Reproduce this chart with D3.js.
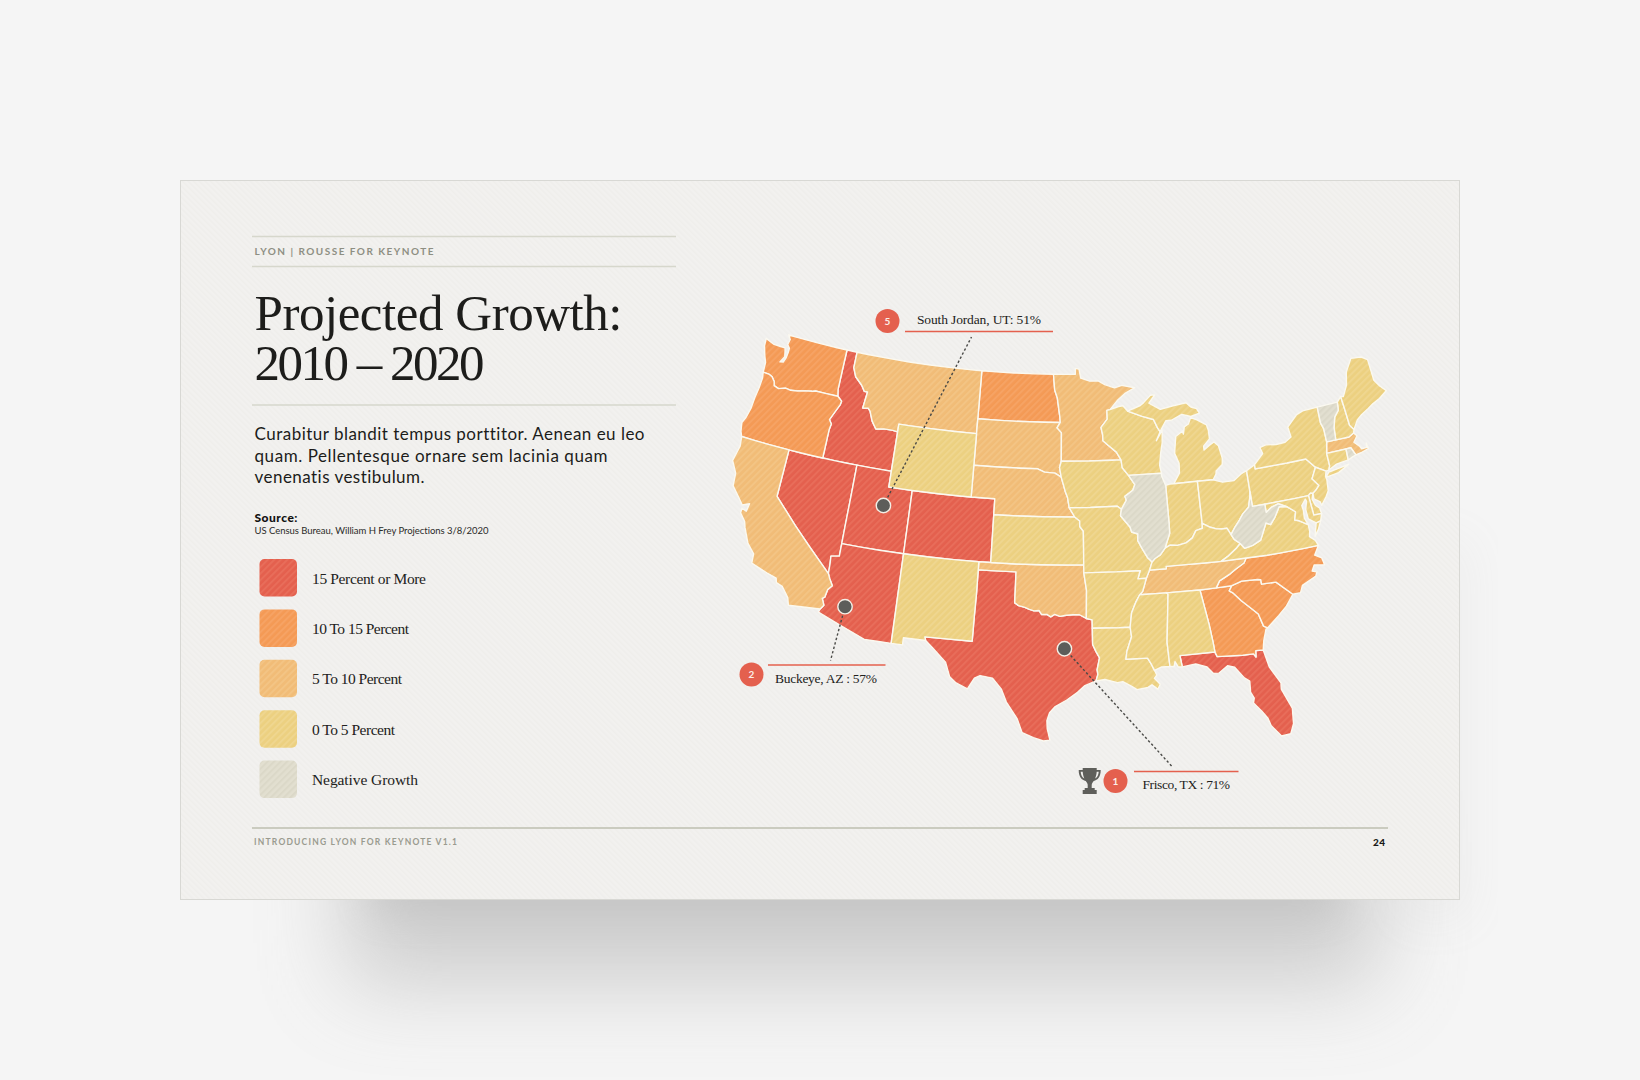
<!DOCTYPE html>
<html>
<head>
<meta http-equiv="Content-Type" content="text/html;charset=utf-8"/>
<script type="text/javascript" src="https://d3js.org/d3.v7.min.js"></script>
<style type="text/css">
html, body { margin: 0; padding: 0; background: #f5f5f5; }
svg { display: block; }
text { font-variant-ligatures: none; }
.serif { font-family: "Liberation Serif", serif; }
.sans { font-family: "Lato", sans-serif; }
</style>
</head>
<body>
<div id="body"></div>
<script type="text/javascript">

// growth tiers and which states sit in them
var tierLabels = ["15 Percent or More", "10 To 15 Percent", "5 To 10 Percent", "0 To 5 Percent", "Negative Growth"];
var tierStates = [
    ["ID", "NV", "UT", "CO", "AZ", "TX", "FL"],
    ["WA", "OR", "ND", "GA", "SC", "NC"],
    ["CA", "MT", "SD", "NE", "OK", "MN", "TN", "MA"],
    ["WY", "NM", "KS", "IA", "MO", "AR", "LA", "MS", "AL", "WI", "MI", "IN", "OH", "KY", "VA", "PA", "NY", "NJ", "DE", "MD", "CT", "NH", "ME"],
    ["IL", "WV", "VT", "RI"]
];

// the three called out cities [lon, lat]
var cityNames = ["Frisco, TX : 71%", "Buckeye, AZ : 57%", "South Jordan, UT: 51%"];
var cityRanks = [1, 2, 5];
var cityLonLat = [[-96.15, 31.75], [-112.9, 33.15], [-111.25, 39.8]];

var bodyLines = ["Curabitur blandit tempus porttitor. Aenean eu leo", "quam. Pellentesque ornare sem lacinia quam", "venenatis vestibulum."];

// shared borders in lon/lat, each one used by the states on both sides
var waTop = [[-122.76,49],[-122,49],[-120,49],[-118,49],[-117.03,49]];
var waCoast = [[-122.76,49],[-122.5,48.75],[-122.6,48.4],[-122.35,48.2],[-122.35,47.9],[-122.4,47.55],[-122.55,47.25],[-122.85,47.2],[-122.55,47.6],[-122.65,47.9],[-122.75,48.15],[-123.2,48.15],[-123.9,48.17],[-124.7,48.38],[-124.65,47.9],[-124.35,47.3],[-124.1,46.9],[-124.05,46.27]];
var columbia = [[-124.05,46.27],[-123.45,46.25],[-123.15,46.15],[-122.85,45.9],[-122.75,45.65],[-122.3,45.55],[-121.7,45.7],[-121.2,45.65],[-120.6,45.72],[-119.9,45.85],[-119.3,45.93],[-119,46],[-118,46],[-116.92,46]];
var orCoast = [[-124.05,46.27],[-123.95,45.9],[-124,45.2],[-124.1,44.6],[-124.15,43.9],[-124.35,43.2],[-124.55,42.84],[-124.4,42.3],[-124.21,42]];
var orCa = [[-124.21,42],[-123,42],[-122,42],[-121,42],[-120,42]];
var orNv = [[-120,42],[-119,42],[-118,42],[-117.03,42]];
var idNv = [[-117.03,42],[-116,42],[-115,42],[-114.04,42]];
var idUt = [[-114.04,42],[-113,42],[-112,42],[-111.05,42]];
var snake = [[-117.03,42],[-117.03,43.8],[-116.95,44.2],[-117.2,44.45],[-116.9,44.95],[-116.55,45.5],[-116.5,45.75],[-116.92,46]];
var waId = [[-116.92,46],[-117.04,46.42],[-117.04,47],[-117.04,48],[-117.03,49]];
var idTop = [[-117.03,49],[-116.05,49]];
var mtTop = [[-116.05,49],[-115,49],[-113,49],[-111,49],[-109,49],[-107,49],[-105,49],[-104.05,49]];
var ndTop = [[-104.05,49],[-103,49],[-101,49],[-99,49],[-97.23,49]];
var mnTop = [[-97.23,49],[-96,49],[-95.15,49],[-95.15,49.38],[-94.8,49.33],[-94.65,48.75],[-93.8,48.55],[-93,48.55],[-92.4,48.3],[-91.5,48.07],[-90.8,48.2],[-89.6,48]];
var mnLake = [[-89.6,48],[-90.5,47.7],[-91.3,47.25],[-92,46.7]];
var mnWi = [[-92,46.7],[-92.29,46.66],[-92.29,46.1],[-92.88,45.6],[-92.75,45.1],[-92.75,44.75],[-92.3,44.45],[-91.6,44],[-91.22,43.5]];
var idMt = [[-116.05,49],[-116.05,48],[-115.7,47.45],[-115,47],[-114.65,46.65],[-114.35,46.65],[-114.5,45.6],[-114,45.65],[-113.8,45.5],[-113.45,44.9],[-113,44.45],[-112.3,44.55],[-111.5,44.55],[-111.05,44.5]];
var idWy = [[-111.05,44.5],[-111.05,43],[-111.05,42]];
var mtWy = [[-111.05,44.5],[-111.05,45],[-110,45],[-108,45],[-106,45],[-104.05,45]];
var mtNd = [[-104.05,49],[-104.05,47],[-104.05,45.94]];
var mtSd = [[-104.05,45.94],[-104.05,45]];
var wyUt = [[-111.05,42],[-111.05,41],[-110,41],[-109.05,41]];
var wyCo = [[-109.05,41],[-107,41],[-105,41],[-104.05,41]];
var wySd = [[-104.05,45],[-104.05,43]];
var wyNe = [[-104.05,43],[-104.05,41]];
var ndSd = [[-104.05,45.94],[-102,45.94],[-100,45.94],[-98,45.94],[-96.56,45.94]];
var ndMn = [[-97.23,49],[-97.1,48],[-96.85,47.5],[-96.6,46.3],[-96.56,45.94]];
var sdMn = [[-96.56,45.94],[-96.85,45.6],[-96.45,45.3],[-96.45,43.5]];
var sdIa = [[-96.45,43.5],[-96.6,43.1],[-96.45,42.5]];
var sdNe = [[-104.05,43],[-102,43],[-100,43],[-98.5,43],[-97.9,42.8],[-97,42.75],[-96.45,42.5]];
var neIa = [[-96.45,42.5],[-96.25,42],[-96.1,41.6],[-95.9,41.2],[-95.77,40.58]];
var neMo = [[-95.77,40.58],[-95.5,40.25],[-95.31,40]];
var coNe = [[-104.05,41],[-102.05,41],[-102.05,40]];
var neKs = [[-102.05,40],[-100,40],[-98,40],[-96,40],[-95.31,40]];
var ksMo = [[-95.31,40],[-94.9,39.75],[-94.9,39.4],[-94.61,39.1],[-94.61,38],[-94.62,37]];
var coKs = [[-102.05,40],[-102.05,37]];
var ksOk = [[-102.05,37],[-100,37],[-98,37],[-96,37],[-94.62,37]];
var coOk = [[-103,37],[-102.05,37]];
var coNm = [[-109.05,37],[-107,37],[-105,37],[-103,37]];
var utAz = [[-114.05,37],[-112.5,37],[-111,37],[-109.05,37]];
var coUt = [[-109.05,41],[-109.05,39],[-109.05,37]];
var azNm = [[-109.05,37],[-109.05,35],[-109.05,33],[-109.05,31.33]];
var nvUt = [[-114.04,42],[-114.04,40],[-114.05,38],[-114.05,37]];
var nvAz = [[-114.05,37],[-114.05,36.2],[-114.7,36.1],[-114.65,35.6],[-114.63,35]];
var caNv = [[-120,42],[-120,39],[-118,37.5],[-116.5,36.4],[-114.63,35]];
var caAz = [[-114.63,35],[-114.45,34.7],[-114.15,34.3],[-114.45,34],[-114.55,33.5],[-114.72,33.4],[-114.5,33],[-114.72,32.72]];
var caSouth = [[-117.12,32.53],[-114.72,32.72]];
var caCoast = [[-124.21,42],[-124.1,41.4],[-124.35,40.4],[-123.8,39.7],[-123.7,38.9],[-123,38.3],[-122.55,37.9],[-122,38.1],[-122.1,37.6],[-122.5,37.7],[-122.5,37.4],[-122,36.95],[-121.85,36.6],[-121.3,35.7],[-120.65,35.15],[-120.6,34.55],[-119.3,34.2],[-118.5,34.02],[-118.4,33.75],[-117.9,33.6],[-117.3,33],[-117.12,32.53]];
var azSouth = [[-114.72,32.72],[-114.8,32.5],[-113,31.95],[-111.07,31.33],[-110,31.33],[-109.05,31.33]];
var nmSouth = [[-109.05,31.33],[-108.2,31.33],[-108.2,31.78],[-106.53,31.78]];
var nmTx = [[-106.53,31.78],[-106.62,32],[-103.06,32],[-103.04,33.5],[-103,35],[-103,36.5]];
var nmOk = [[-103,36.5],[-103,37]];
var txTop = [[-103,36.5],[-102,36.5],[-100,36.5]];
var txOk = [[-100,36.5],[-100,35],[-100,34.56],[-99.7,34.4],[-99.2,34.3],[-98.9,34.2],[-98.5,34.1],[-98.1,34.13],[-97.9,33.88],[-97.5,33.9],[-97.2,33.75],[-96.9,33.9],[-96.5,33.78],[-96,33.85],[-95.5,33.88],[-95,33.88],[-94.48,33.64]];
var txAr = [[-94.48,33.64],[-94.04,33.55],[-94.04,33.02]];
var txLa = [[-94.04,33.02],[-94.04,32],[-93.8,31.55],[-93.55,31.15],[-93.75,30.4],[-93.7,30.1],[-93.85,29.7]];
var txCoast = [[-93.85,29.7],[-94.7,29.4],[-95.2,29],[-96,28.5],[-96.8,28.1],[-97.2,27.7],[-97.38,27.2],[-97.35,26.7],[-97.15,25.96]];
var txMex = [[-97.15,25.96],[-97.6,25.9],[-98.3,26.1],[-99.1,26.4],[-99.5,27.3],[-100.3,28.3],[-100.7,29.1],[-101.4,29.77],[-102.3,29.88],[-102.7,29.7],[-103.15,28.98],[-104,29.3],[-104.5,29.65],[-104.9,30.55],[-106,31.4],[-106.53,31.78]];
var okMo = [[-94.62,37],[-94.62,36.5]];
var okAr = [[-94.62,36.5],[-94.43,35.4],[-94.48,33.64]];
var moAr = [[-94.62,36.5],[-92,36.5],[-90.15,36.5],[-90.37,36],[-89.7,36]];
var arLa = [[-94.04,33.02],[-92,33],[-91.17,33]];
var mnIa = [[-96.45,43.5],[-94,43.5],[-92,43.5],[-91.22,43.5]];
var iaWi = [[-91.22,43.5],[-91.15,43],[-90.65,42.5]];
var iaIl = [[-90.65,42.5],[-90.15,41.9],[-90.35,41.55],[-91.05,41.2],[-90.95,40.95],[-91.4,40.4]];
var iaMo = [[-95.77,40.58],[-94,40.58],[-92.7,40.6],[-91.73,40.6],[-91.4,40.4]];
var moIl = [[-91.4,40.4],[-91.5,40],[-90.75,39.25],[-90.65,38.95],[-90.15,38.8],[-90.2,38.4],[-89.9,37.9],[-89.5,37.3],[-89.15,37]];
var moKy = [[-89.15,37],[-89.4,36.5]];
var moTn = [[-89.4,36.5],[-89.7,36]];
var arTn = [[-89.7,36],[-90.05,35.2],[-90.3,35]];
var arMs = [[-90.3,35],[-90.6,34.6],[-91,33.9],[-91.17,33]];
var laMs = [[-91.17,33],[-91.1,32.4],[-91.5,31.5],[-91.6,31],[-90,31],[-89.75,30.6],[-89.55,30.2]];
var laCoast = [[-89.55,30.2],[-89.4,29.9],[-89.6,29.7],[-89.2,29.3],[-89.4,29],[-89.8,29.3],[-90.1,29.15],[-90.9,29.05],[-91.3,29.3],[-91.9,29.6],[-92.3,29.55],[-93.2,29.78],[-93.85,29.7]];
var msCoast = [[-89.55,30.2],[-89,30.38],[-88.4,30.37]];
var msAl = [[-88.2,35],[-88.1,34.9],[-88.47,31.9],[-88.4,30.37]];
var alCoast = [[-88.4,30.37],[-88.1,30.35],[-88,30.65],[-87.8,30.3],[-87.5,30.28]];
var alFl = [[-87.5,30.28],[-87.6,31],[-85,31]];
var gaAl = [[-85,31],[-85.05,31.6],[-85.2,32.8],[-85.6,34.98]];
var flGa = [[-85,31],[-84.87,30.7],[-83,30.58],[-82.2,30.57],[-82.05,30.35],[-82,30.75],[-81.45,30.72]];
var flCoast = [[-87.5,30.28],[-86.5,30.38],[-85.7,30.12],[-85.3,29.68],[-84.9,29.65],[-84.2,30.05],[-83.7,29.9],[-83.1,29.15],[-82.75,28.9],[-82.8,28.2],[-82.6,27.8],[-82.7,27.5],[-82.2,26.9],[-81.85,26.4],[-81.7,25.9],[-81.1,25.15],[-80.45,25.2],[-80.15,25.8],[-80.05,26.8],[-80.6,28.1],[-80.55,28.5],[-81.2,29.6],[-81.45,30.72]];
var gaCoast = [[-81.45,30.72],[-81.3,31.3],[-81,32],[-80.87,32.05]];
var gaSc = [[-80.87,32.05],[-81.15,32.2],[-81.4,33],[-81.9,33.45],[-82.55,34],[-83.1,34.55],[-83.35,34.7],[-83.1,35]];
var gaNc = [[-83.1,35],[-84.32,34.99]];
var gaTn = [[-84.32,34.99],[-85.6,34.98]];
var scCoast = [[-80.87,32.05],[-80.5,32.3],[-79.9,32.7],[-79.2,33.2],[-78.55,33.86]];
var ncSc = [[-78.55,33.86],[-79.67,34.8],[-80.8,34.82],[-80.8,35.1],[-81.05,35.15],[-82.3,35.2],[-83.1,35]];
var ncCoast = [[-78.55,33.86],[-77.95,33.87],[-77.7,34.3],[-76.7,34.65],[-76.55,34.7],[-76.4,34.95],[-76.75,35.05],[-76.5,35.4],[-75.7,35.28],[-75.8,35.75],[-76.3,36],[-75.85,36.55]];
var vaNc = [[-75.85,36.55],[-77,36.55],[-79,36.55],[-80,36.55],[-81.68,36.59]];
var tnNc = [[-81.68,36.59],[-81.9,36.3],[-82.6,36],[-83.1,35.75],[-84,35.4],[-84.32,34.99]];
var tnVa = [[-81.68,36.59],[-83.68,36.6]];
var tnKy = [[-83.68,36.6],[-85,36.62],[-86.5,36.65],[-88.07,36.65],[-88.07,36.5],[-89.4,36.5]];
var tnMs = [[-90.3,35],[-88.2,35]];
var tnAl = [[-88.2,35],[-85.6,34.98]];
var kyVa = [[-83.68,36.6],[-83.1,36.85],[-82.3,37.3],[-81.97,37.54]];
var kyWv = [[-81.97,37.54],[-82.4,37.85],[-82.6,38.17]];
var kyOh = [[-82.6,38.17],[-82.85,38.6],[-83.3,38.6],[-83.7,38.65],[-84.2,38.8],[-84.82,39.1]];
var kyIn = [[-84.82,39.1],[-84.85,38.8],[-85.4,38.7],[-85.75,38.27],[-86.3,38],[-87,37.9],[-87.6,37.95],[-88.03,37.8]];
var kyIl = [[-88.03,37.8],[-88.45,37.4],[-88.9,37.2],[-89.15,37]];
var ilIn = [[-88.03,37.8],[-87.55,38.7],[-87.53,39.35],[-87.53,41.7]];
var ilLake = [[-87.53,41.7],[-87.8,42.3],[-87.8,42.49]];
var ilWi = [[-87.8,42.49],[-89,42.5],[-90.65,42.5]];
var inTop = [[-87.53,41.7],[-87.2,41.76],[-86.82,41.76]];
var inMi = [[-86.82,41.76],[-84.8,41.76]];
var inOh = [[-84.8,41.76],[-84.82,39.1]];
var miOh = [[-84.8,41.76],[-83.45,41.73]];
var ohLake = [[-83.45,41.73],[-82.7,41.5],[-81.7,41.5],[-81,41.85],[-80.52,41.98]];
var ohPa = [[-80.52,41.98],[-80.52,40.64]];
var ohWv = [[-80.52,40.64],[-80.65,40.2],[-80.85,39.7],[-81.4,39.35],[-81.75,39],[-82.2,38.6],[-82.6,38.17]];
var wvPa = [[-80.52,40.64],[-80.52,39.72],[-79.48,39.72]];
var wvMd = [[-79.48,39.72],[-79.48,39.2],[-79,39.45],[-78.4,39.6],[-77.72,39.32]];
var wvVa = [[-77.72,39.32],[-78.35,39.4],[-78.85,38.8],[-79.3,38.4],[-79.65,38.55],[-80.3,37.55],[-81,37.3],[-81.68,37.2],[-81.97,37.54]];
var vaMd = [[-77.72,39.32],[-77.1,38.9],[-77.3,38.4],[-76.95,38.3],[-76.3,37.95]];
var vaCoast = [[-76.3,37.95],[-76.3,37.5],[-76.4,37.2],[-76,36.9],[-75.85,36.55]];
var vaShore = [[-75.65,37.95],[-75.95,37.15],[-75.6,37.5],[-75.25,38.03]];
var mdPa = [[-79.48,39.72],[-77,39.72],[-75.79,39.72]];
var mdDe = [[-75.79,39.72],[-75.7,38.46],[-75.05,38.45]];
var mdCoast = [[-75.05,38.45],[-75.25,38.03],[-75.65,37.95]];
var mdBayE = [[-75.65,37.95],[-76.2,38.3],[-76.25,38.9],[-76.05,39.4],[-76.1,39.55]];
var mdBayW = [[-76.1,39.55],[-76.5,39.2],[-76.45,38.9],[-76.5,38.4],[-76.3,37.95]];
var paDe = [[-75.79,39.72],[-75.6,39.84],[-75.4,39.8]];
var deBay = [[-75.4,39.8],[-75.55,39.45],[-75.4,39.05],[-75.1,38.8],[-75.05,38.45]];
var paNj = [[-75.4,39.8],[-75.1,39.95],[-74.75,40.2],[-75.2,40.7],[-74.7,41.36]];
var paNy = [[-74.7,41.36],[-75.35,42],[-77,42],[-79.76,42],[-79.76,42.27]];
var paLake = [[-79.76,42.27],[-80.52,41.98]];
var nyNj = [[-74.7,41.36],[-73.9,40.98]];
var njCoast = [[-73.9,40.98],[-74.05,40.65],[-74,40.45],[-74.1,39.75],[-74.4,39.4],[-74.9,38.95],[-74.95,39.18],[-75.4,39.45],[-75.4,39.8]];
var nySound = [[-73.9,40.98],[-73.65,41]];
var longIsland = [[-74.03,40.6],[-72.9,40.7],[-71.9,41.05],[-72.6,40.98],[-73.7,40.87]];
var nyCt = [[-73.65,41],[-73.5,41.25],[-73.5,42.05]];
var nyMa = [[-73.5,42.05],[-73.27,42.75]];
var nyVt = [[-73.27,42.75],[-73.25,43.6],[-73.4,44],[-73.35,45.01]];
var nyNorth = [[-73.35,45.01],[-74.7,45],[-75.3,44.85],[-76.3,44.2],[-76.2,43.55],[-76.8,43.3],[-77.6,43.27],[-78.5,43.37],[-79.05,43.27],[-78.9,42.87],[-79.76,42.27]];
var vtTop = [[-73.35,45.01],[-71.5,45.01]];
var vtNh = [[-71.5,45.01],[-71.6,44.5],[-72.05,44.15],[-72.35,43.5],[-72.46,42.73]];
var vtMa = [[-72.46,42.73],[-73.27,42.75]];
var nhTop = [[-71.5,45.01],[-71.08,45.3]];
var nhMe = [[-71.08,45.3],[-71.03,44.5],[-70.98,43.4],[-70.7,43.07]];
var nhCoast = [[-70.7,43.07],[-70.82,42.87]];
var nhMa = [[-70.82,42.87],[-71.3,42.7],[-72.46,42.73]];
var meCoast = [[-70.7,43.07],[-70.2,43.6],[-69.7,43.85],[-69,44.1],[-68.5,44.3],[-67.8,44.5],[-67,44.85],[-67.45,45.25],[-67.8,45.7],[-67.8,47.07],[-68.3,47.35],[-69.05,47.43],[-69.25,47.45],[-70,46.7],[-70.3,45.9],[-70.85,45.25],[-71.08,45.3]];
var maCoast = [[-70.82,42.87],[-70.6,42.65],[-71,42.3],[-70.6,41.95],[-70.5,41.78],[-70.05,41.78],[-70,42.05],[-69.95,41.67],[-70.65,41.55],[-71.12,41.5]];
var maRi = [[-71.12,41.5],[-71.38,42.02]];
var riTop = [[-71.38,42.02],[-71.8,42.02]];
var maCt = [[-71.8,42.02],[-73.5,42.05]];
var riCt = [[-71.85,41.32],[-71.8,42.02]];
var riCoast = [[-71.85,41.32],[-71.4,41.45],[-71.12,41.5]];
var ctCoast = [[-71.85,41.32],[-72.9,41.25],[-73.65,41]];
var wiNorth = [[-92,46.7],[-91.2,46.87],[-90.8,46.9],[-90.4,46.55]];
var wiMi = [[-90.4,46.55],[-89.1,46.15],[-88.1,45.9],[-87.8,45.35],[-87.6,45.1]];
var wiLake = [[-87.6,45.1],[-88,44.55],[-87.4,45.2],[-87.5,44.4],[-87.7,43.8],[-87.9,43],[-87.8,42.49]];
var miUpper = [[-90.4,46.55],[-89.2,46.85],[-88.9,47],[-88.2,47.45],[-87.8,47.45],[-88.4,46.95],[-87.4,46.5],[-86.2,46.65],[-85,46.75],[-84.6,46.45],[-84.1,46.3],[-83.9,46],[-84.7,45.85],[-85.5,46.05],[-86.5,45.75],[-87,45.75],[-87.6,45.1]];
var miLower = [[-86.82,41.76],[-86.25,42.4],[-86.2,43],[-86.5,43.65],[-86.25,44.7],[-85.6,45],[-85.55,44.8],[-85.4,45.25],[-85,45.4],[-84.75,45.78],[-84.2,45.6],[-83.4,45.2],[-83.3,44.85],[-83.3,44.3],[-83.9,43.9],[-83.9,43.65],[-83.4,43.9],[-82.95,44.07],[-82.6,43.8],[-82.42,43],[-82.5,42.6],[-83.1,42.25],[-83.15,42.05],[-83.45,41.73]];

function rev(a) { return a.slice().reverse(); }
function ring() { return d3.merge(Array.prototype.slice.call(arguments)); }

// each state is a list of rings
var stateRings = {
    WA: [ring(waTop, rev(waId), rev(columbia), rev(waCoast))],
    OR: [ring(columbia, rev(snake), rev(orNv), rev(orCa), rev(orCoast))],
    CA: [ring(orCa, caNv, caAz, rev(caSouth), rev(caCoast))],
    NV: [ring(orNv, idNv, nvUt, nvAz, rev(caNv))],
    ID: [ring(idTop, idMt, idWy, rev(idUt), rev(idNv), snake, waId)],
    MT: [ring(mtTop, mtNd, mtSd, rev(mtWy), rev(idMt))],
    WY: [ring(mtWy, wySd, wyNe, rev(wyCo), rev(wyUt), rev(idWy))],
    UT: [ring(idUt, wyUt, coUt, rev(utAz), rev(nvUt))],
    CO: [ring(wyCo, coNe, coKs, rev(coOk), rev(coNm), rev(coUt))],
    AZ: [ring(utAz, azNm, rev(azSouth), rev(caAz), rev(nvAz))],
    NM: [ring(coNm, rev(nmOk), rev(nmTx), rev(nmSouth), rev(azNm))],
    ND: [ring(ndTop, ndMn, rev(ndSd), rev(mtNd))],
    SD: [ring(ndSd, sdMn, sdIa, rev(sdNe), rev(wySd), rev(mtSd))],
    NE: [ring(sdNe, neIa, neMo, rev(neKs), rev(coNe), rev(wyNe))],
    KS: [ring(neKs, ksMo, rev(ksOk), rev(coKs))],
    OK: [ring(coOk, ksOk, okMo, okAr, rev(txOk), rev(txTop), nmOk)],
    TX: [ring(txTop, txOk, txAr, txLa, txCoast, txMex, nmTx)],
    MN: [ring(mnTop, mnLake, mnWi, rev(mnIa), rev(sdMn), rev(ndMn))],
    IA: [ring(mnIa, iaWi, iaIl, rev(iaMo), rev(neIa), rev(sdIa))],
    MO: [ring(iaMo, moIl, moKy, moTn, rev(moAr), rev(okMo), rev(ksMo), rev(neMo))],
    AR: [ring(moAr, arTn, arMs, rev(arLa), rev(txAr), rev(okAr))],
    LA: [ring(arLa, laMs, laCoast, rev(txLa))],
    MS: [ring(tnMs, msAl, rev(msCoast), rev(laMs), rev(arMs))],
    AL: [ring(tnAl, rev(gaAl), rev(alFl), rev(alCoast), rev(msAl))],
    TN: [ring(tnVa, tnKy, moTn, arTn, tnMs, tnAl, rev(gaTn), rev(tnNc))],
    KY: [ring(kyVa, kyWv, kyOh, kyIn, kyIl, moKy, rev(tnKy))],
    IL: [ring(ilLake, ilWi, iaIl, moIl, rev(kyIl), ilIn)],
    IN: [ring(inTop, inMi, inOh, kyIn, ilIn)],
    OH: [ring(miOh, ohLake, ohPa, ohWv, kyOh, rev(inOh))],
    MI: [ring(miLower, rev(miOh), rev(inMi)), ring(miUpper, rev(wiMi))],
    WI: [ring(wiNorth, wiMi, wiLake, ilWi, rev(iaWi), rev(mnWi))],
    PA: [ring(paLake, ohPa, wvPa, mdPa, paDe, paNj, paNy)],
    WV: [ring(wvPa, wvMd, wvVa, kyWv, rev(ohWv))],
    VA: [ring(rev(kyVa), rev(tnVa), rev(vaNc), rev(vaCoast), rev(vaMd), wvVa), vaShore],
    MD: [ring(mdPa, mdDe, mdCoast, mdBayE, mdBayW, rev(vaMd), rev(wvMd))],
    DE: [ring(paDe, deBay, rev(mdDe))],
    NJ: [ring(paNj, nyNj, njCoast)],
    NY: [ring(rev(paNy), nyNj, nySound, nyCt, nyMa, nyVt, nyNorth), longIsland],
    CT: [ring(ctCoast, nyCt, rev(maCt), rev(riCt))],
    RI: [ring(maRi, riTop, rev(riCt), riCoast)],
    MA: [ring(maCoast, maRi, riTop, maCt, nyMa, rev(vtMa), rev(nhMa))],
    VT: [ring(vtTop, vtNh, vtMa, nyVt)],
    NH: [ring(nhTop, nhMe, nhCoast, nhMa, rev(vtNh))],
    ME: [ring(meCoast, nhMe)],
    NC: [ring(rev(vaNc), rev(ncCoast), ncSc, gaNc, rev(tnNc))],
    SC: [ring(scCoast, ncSc, rev(gaSc))],
    GA: [ring(gaSc, gaNc, gaTn, rev(gaAl), flGa, gaCoast)],
    FL: [ring(flCoast, rev(flGa), rev(alFl))]
};

var tierFill = ["#e4604e", "#f49a55", "#f1bc77", "#ecd080", "#e2dfd0"];
var tierStripe = ["#e86d5a", "#f6a364", "#f3c484", "#efd68f", "#dbd8c8"];

var w = 1640, h = 1080;

var svg = d3.select("#body").append("svg")
    .attr("width", w)
    .attr("height", h);

var defs = svg.append("defs");

[["blurWide", 44], ["blurCore", 20], ["blurSide", 24]].forEach(function(b) {
    defs.append("filter").attr("id", b[0])
        .attr("x", "-40%").attr("y", "-150%").attr("width", "180%").attr("height", "400%")
        .append("feGaussianBlur").attr("stdDeviation", b[1]);
});

// paper weave
var paper = defs.append("pattern").attr("id", "paper")
    .attr("patternUnits", "userSpaceOnUse").attr("width", 4).attr("height", 4)
    .attr("patternTransform", "rotate(-45)");
paper.append("rect").attr("width", 4).attr("height", 4).attr("fill", "#f2f1ef");
paper.append("rect").attr("width", 1.5).attr("height", 4).attr("fill", "#efeeeb");

// one striped fill per tier
tierFill.forEach(function(c, i) {
    var p = defs.append("pattern").attr("id", "tier" + i)
        .attr("patternUnits", "userSpaceOnUse").attr("width", 4.6).attr("height", 4.6)
        .attr("patternTransform", "rotate(45)");
    p.append("rect").attr("width", 4.6).attr("height", 4.6).attr("fill", c);
    p.append("rect").attr("width", 2).attr("height", 4.6).attr("fill", tierStripe[i]);
});

// page and slide
svg.append("rect").attr("width", w).attr("height", h).attr("fill", "#f5f5f5");
svg.append("rect")
    .attr("x", 345).attr("y", 800).attr("width", 1035).attr("height", 185)
    .attr("fill", "#999").attr("opacity", .42)
    .attr("filter", "url(#blurWide)");
svg.append("rect")
    .attr("x", 370).attr("y", 860).attr("width", 970).attr("height", 50)
    .attr("fill", "#999").attr("opacity", .2)
    .attr("filter", "url(#blurCore)");
svg.append("rect")
    .attr("x", 1400).attr("y", 540).attr("width", 70).attr("height", 380)
    .attr("fill", "#999").attr("opacity", .07)
    .attr("filter", "url(#blurSide)");
svg.append("rect")
    .attr("x", 180.5).attr("y", 180.5).attr("width", 1279).attr("height", 719)
    .attr("fill", "url(#paper)")
    .attr("stroke", "#d8d8d4");

// helper, textLength keeps the widths of the slide's own fonts
function label(x, y, str, cls, size, fill, len, weight) {
    return svg.append("text")
        .attr("class", cls)
        .attr("x", x).attr("y", y)
        .attr("font-size", size)
        .attr("font-weight", weight || 400)
        .attr("fill", fill)
        .attr("textLength", len)
        .attr("lengthAdjust", "spacing")
        .text(str);
}

function rule(x1, x2, y, color, width) {
    svg.append("line")
        .attr("x1", x1).attr("x2", x2).attr("y1", y).attr("y2", y)
        .attr("stroke", color).attr("stroke-width", width);
}

rule(252, 676, 236.5, "#d6d7cc", 1.5);
rule(252, 676, 266.5, "#d6d7cc", 1.5);
rule(252, 676, 405, "#d6d7cc", 1.5);
rule(252, 1388, 828, "#cacbbf", 2);

label(254.5, 255, "LYON | ROUSSE FOR KEYNOTE", "sans", 10, "#8e8f83", 179, 700);
label(254.5, 329.5, "Projected Growth:", "serif", 51, "#1d1d1b", 368);
label(254.5, 380, "2010 – 2020", "serif", 51, "#1d1d1b", 230);

var bodyWidths = [390, 353, 170];
bodyLines.forEach(function(s, i) {
    label(254.5, 440 + i * 21.7, s, "sans", 17, "#1c1c1a", bodyWidths[i]);
});

label(254.5, 521.5, "Source:", "sans", 12, "#111", 43, 900);
label(254.5, 534, "US Census Bureau, William H Frey Projections 3/8/2020", "sans", 9.5, "#2a2a28", 234);

// legend
var legendWidths = [114, 97, 90, 83, 106];
tierLabels.forEach(function(s, i) {
    var y = 559 + i * 50.4;
    svg.append("rect")
        .attr("x", 259.5).attr("y", y)
        .attr("width", 37.5).attr("height", 37.5)
        .attr("rx", 5)
        .attr("fill", "url(#tier" + i + ")");
    label(312, y + 24.5, s, "serif", 15.5, "#222220", legendWidths[i]);
});

label(254, 845, "INTRODUCING LYON FOR KEYNOTE V1.1", "sans", 8.5, "#9a9b8f", 203, 700);
label(1373, 846, "24", "sans", 10, "#1a1a18", 12, 900);

// map
var allPoints = [];
Object.keys(stateRings).forEach(function(st) {
    stateRings[st].forEach(function(r) { allPoints = allPoints.concat(r); });
});

var projection = d3.geoAlbers()
    .fitExtent([[731, 335], [1388, 741]], { type: "MultiPoint", coordinates: allPoints });

var ringLine = d3.line()
    .x(function(d) { return projection(d)[0]; })
    .y(function(d) { return projection(d)[1]; });

var mapData = [];
tierStates.forEach(function(list, t) {
    list.forEach(function(st) {
        stateRings[st].forEach(function(r) {
            mapData.push({ state: st, tier: t, ring: r });
        });
    });
});

svg.append("g").selectAll("path")
    .data(mapData)
    .enter().append("path")
    .attr("d", function(d) { return ringLine(d.ring) + "Z"; })
    .attr("fill", function(d) { return "url(#tier" + d.tier + ")"; })
    .attr("stroke", "#fbf9f0")
    .attr("stroke-width", 1.4)
    .attr("stroke-linejoin", "round");

// callouts, layout of each label box
var calloutBadge = [[1115.5, 781], [751.5, 674.5], [887.5, 321]];
var calloutRule = [[1134, 1238.5, 771.5], [768, 885.5, 665], [905, 1053, 331.5]];
var calloutText = [[1142.5, 789, 87.6], [775, 683, 102], [917, 324, 124]];
var calloutLead = [[1172.5, 767], [830.5, 660.5], [971.5, 337]];

cityNames.forEach(function(name, i) {
    var p = projection(cityLonLat[i]);
    svg.append("line")
        .attr("x1", p[0]).attr("y1", p[1])
        .attr("x2", calloutLead[i][0]).attr("y2", calloutLead[i][1])
        .attr("stroke", "#4a4a47")
        .attr("stroke-width", 1.4)
        .attr("stroke-dasharray", "2.4 2.2");
    svg.append("circle")
        .attr("cx", p[0]).attr("cy", p[1]).attr("r", 7.2)
        .attr("fill", "#5d5d5a")
        .attr("stroke", "#f3efe6")
        .attr("stroke-width", 1.4);
    rule(calloutRule[i][0], calloutRule[i][1], calloutRule[i][2], "#e4604e", 1.5);
    svg.append("circle")
        .attr("cx", calloutBadge[i][0]).attr("cy", calloutBadge[i][1]).attr("r", 12)
        .attr("fill", "#e4604e");
    svg.append("text")
        .attr("class", "sans")
        .attr("x", calloutBadge[i][0]).attr("y", calloutBadge[i][1] + 3.5)
        .attr("text-anchor", "middle")
        .attr("font-size", 10)
        .attr("font-weight", 700)
        .attr("fill", "#fbeee8")
        .text(cityRanks[i]);
    label(calloutText[i][0], calloutText[i][1], name, "serif", 13.5, "#222220", calloutText[i][2]);
});

// trophy
svg.append("path")
    .attr("transform", "translate(1089.7,781)")
    .attr("fill", "#5f5f5b")
    .attr("fill-rule", "evenodd")
    .attr("d", "M-7,-13H7V-11H11C11,-4 8,-1 4,0C3,1.5 2,2.5 2,4V7H5V9H7V13H-7V9H-5V7H-2V4C-2,2.5 -3,1.5 -4,0C-8,-1 -11,-4 -11,-11H-7ZM-9,-9.2C-8.8,-6 -7.6,-3.6 -5.4,-2.4C-6.2,-4.4 -6.8,-6.6 -7,-9.2ZM9,-9.2H7C6.8,-6.6 6.2,-4.4 5.4,-2.4C7.6,-3.6 8.8,-6 9,-9.2Z");

</script>
</body>
</html>
